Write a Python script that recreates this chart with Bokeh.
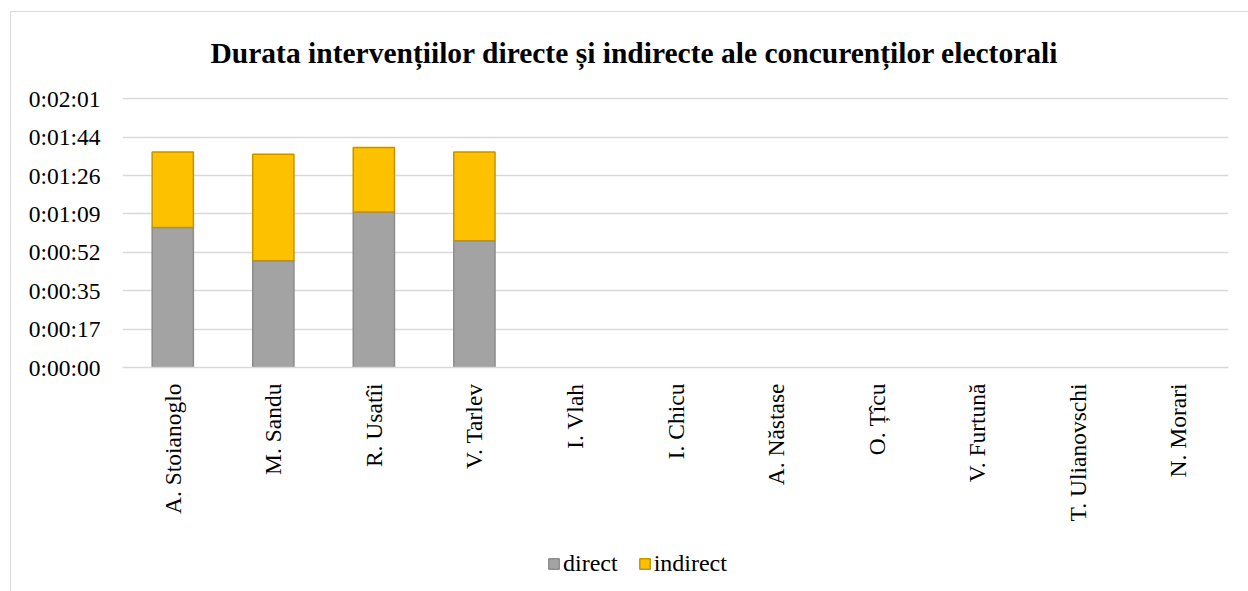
import math
from bokeh.plotting import figure
from bokeh.layouts import column
from bokeh.models import (FactorRange, Range1d, FixedTicker, CustomJSTickFormatter,
                          Legend, LegendItem, Label, ColumnDataSource, CDSView, BooleanFilter)
from bokeh.embed import file_html
from bokeh.resources import INLINE

candidates = ["A. Stoianoglo", "M. Sandu", "R. Usatîi", "V. Tarlev", "I. Vlah", "I. Chicu",
              "A. Năstase", "O. Țîcu", "V. Furtună", "T. Ulianovschi", "N. Morari"]
# durations in seconds
direct = [63, 48, 70, 57, 0, 0, 0, 0, 0, 0, 0]
indirect = [34, 48, 29, 40, 0, 0, 0, 0, 0, 0, 0]
y_ticks = [0, 17.28, 34.56, 51.84, 69.12, 86.4, 103.68, 120.96]
series = ["direct", "indirect"]
fills = ["#a3a3a3", "#fdc100"]
lines = ["#8c8c8c", "#c49400"]
title_text = "Durata intervențiilor directe și indirecte ale concurenților electorali"

FONT = "Liberation Serif"
FS = "23.5px"
W = 1237


def blank(height, **kw):
    f = figure(width=W, height=height, output_backend="svg", toolbar_location=None,
               min_border=0, title=None, **kw)
    f.axis.visible = False
    f.grid.visible = False
    f.outline_line_color = None
    f.background_fill_color = "white"
    f.border_fill_color = "white"
    return f


src = ColumnDataSource(dict(cat=candidates, direct=direct, indirect=indirect))
view = CDSView(filter=BooleanFilter(booleans=[(d + i) > 0 for d, i in zip(direct, indirect)]))

# title strip
p0 = blank(70, x_range=Range1d(0, 1), y_range=Range1d(0, 1))
p0.add_layout(Label(x=512, y=30, x_units="screen", y_units="screen", text=title_text,
                    text_align="center", text_baseline="alphabetic",
                    text_font=FONT, text_font_size="29.5px", text_font_style="bold",
                    text_color="#000000"))

# main chart
p = figure(x_range=FactorRange(*candidates, range_padding=0),
           y_range=Range1d(0, y_ticks[-1] + 0.54),
           width=W, height=458, output_backend="svg", toolbar_location=None, title=None,
           min_border_left=111, min_border_right=20, min_border_top=15, min_border_bottom=173)
p.outline_line_color = None
p.background_fill_color = "white"
p.border_fill_color = "white"

p.vbar_stack(series, x="cat", width=0.41, source=src, view=view,
             fill_color=fills, line_color=lines, line_width=1.5)

p.xgrid.grid_line_color = None
p.ygrid.grid_line_color = "#d9d9d9"
p.ygrid.grid_line_width = 1.5

p.yaxis.ticker = FixedTicker(ticks=y_ticks)
p.yaxis.formatter = CustomJSTickFormatter(code="""
const s = Math.round(tick);
const h = Math.floor(s / 3600);
const m = Math.floor((s % 3600) / 60);
const ss = s % 60;
return h + ":" + String(m).padStart(2, "0") + ":" + String(ss).padStart(2, "0");
""")
p.yaxis.axis_line_color = None
p.yaxis.major_tick_line_color = None
p.yaxis.minor_tick_line_color = None
p.yaxis.major_tick_out = 0
p.yaxis.major_tick_in = 0
p.yaxis.major_label_standoff = 22
p.yaxis.major_label_text_font = FONT
p.yaxis.major_label_text_font_size = FS
p.yaxis.major_label_text_color = "#000000"

p.xaxis.axis_line_color = "#d9d9d9"
p.xaxis.axis_line_width = 1.5
p.xaxis.major_tick_line_color = None
p.xaxis.minor_tick_line_color = None
p.xaxis.major_tick_out = 0
p.xaxis.major_tick_in = 0
p.xaxis.major_label_orientation = math.pi / 2
p.xaxis.major_label_standoff = 16
p.xaxis.major_label_text_font = FONT
p.xaxis.major_label_text_font_size = FS
p.xaxis.major_label_text_color = "#000000"

# legend strip below the chart (its renderers are hidden; only the legend shows)
p2 = blank(51, x_range=p.x_range, y_range=Range1d(-2, -1))
legend_rs = p2.vbar_stack(series, x="cat", width=0.41, source=src, view=view,
                          fill_color=fills, line_color=lines, line_width=1.5)
for r in legend_rs:
    r.visible = False
legend = Legend(items=[LegendItem(label=s, renderers=[r]) for s, r in zip(series, legend_rs)],
                orientation="horizontal", location=(425, 14),
                glyph_width=13, glyph_height=13, label_standoff=3, spacing=20,
                padding=0, margin=0, border_line_alpha=0, background_fill_alpha=0,
                label_text_font=FONT, label_text_font_size="24px",
                label_text_color="#000000")
p2.add_layout(legend)

layout = column(p0, p, p2, spacing=0)
layout.margin = (11, 0, 0, 10)
layout.styles = {"border-top": "1px solid #d9d9d9", "border-left": "1px solid #d9d9d9"}

open("out.html", "w").write(file_html(layout, INLINE))
